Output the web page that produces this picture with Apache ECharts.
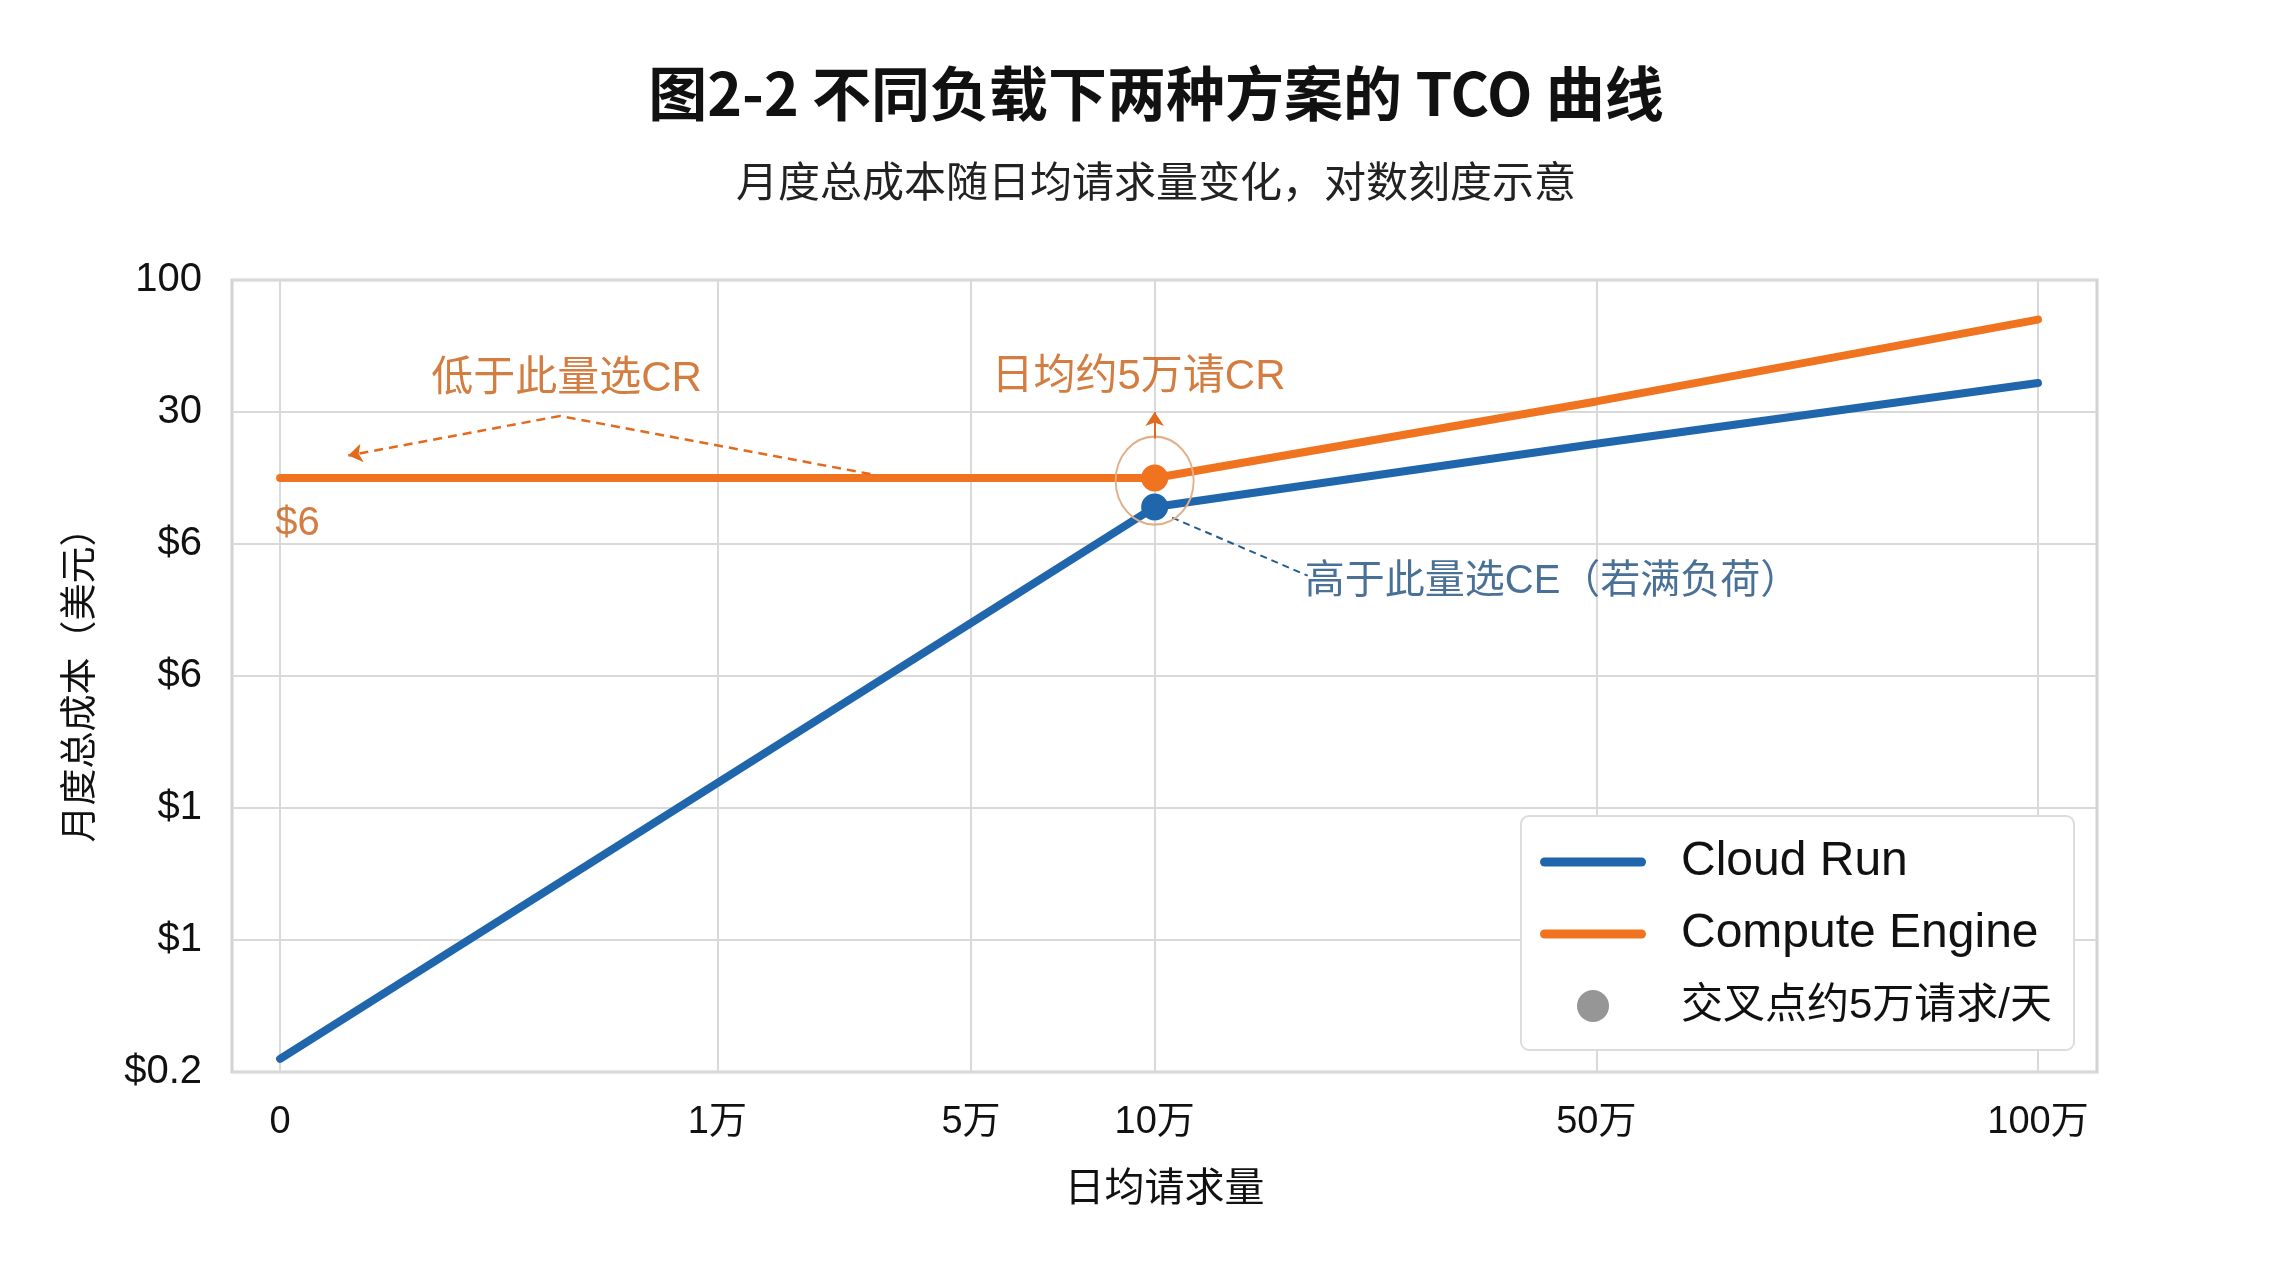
<!DOCTYPE html>
<html>
<head>
<meta charset="utf-8">
<script src="https://cdn.jsdelivr.net/npm/echarts@6/dist/echarts.min.js"></script>
<style>
html, body { margin: 0; background: #fff; }
#chart { width: 2278px; height: 1280px; }
</style>
</head>
<body>
<div id="chart"></div>
<script>
// axis ticks (x positions are in "tick units" as drawn on the reference)
var xTickPos = [0, 1, 1.58, 2, 3.01, 4.02]
var xTickLabels = ['0', '1万', '5万', '10万', '50万', '100万']
var yTickLabels = ['$0.2', '$1', '$1', '$6', '$6', '30', '100']

// series values (y in tick units of the y axis)
var cloudRunX = [0, 2, 3.01, 4.02]
var cloudRunY = [0.1, 4.28, 4.76, 5.22]
var computeX = [0, 2, 3.01, 4.02]
var computeY = [4.5, 4.5, 5.08, 5.7]

// crossover point: x and the two y values (CE, CR)
var crossX = 2
var crossY = [4.5, 4.28]

var FONT = "'Liberation Sans', 'Noto Sans CJK SC', sans-serif"
var BLUE = '#1f66ac'
var ORANGE = '#f07320'
var ORANGE_TEXT = '#c95d10'
var BLUE_TEXT = '#1b4c7c'

// legend bar icon, padded to the full icon box so it stays thin
var BAR_ICON = 'path://M0,0M106,32M4.5,11.5L101.5,11.5A4.5,4.5,0,0,1,101.5,20.5L4.5,20.5A4.5,4.5,0,0,1,4.5,11.5Z'

var pairs = (xs, ys) => xs.map((x, i) => [x, ys[i]])

var chart = echarts.init(document.getElementById('chart'))

var option = {
	backgroundColor: '#fff',
	animation: false,
	textStyle: { fontFamily: FONT },
	title: [
		{
			text: '图2-2 不同负载下两种方案的 TCO 曲线',
			left: 1151,
			top: 59,
			textAlign: 'center',
			textStyle: { fontSize: 59, fontWeight: 'bold', color: '#111', fontFamily: "'Noto Sans CJK SC', sans-serif" },
		},
		{
			text: '月度总成本随日均请求量变化，对数刻度示意',
			left: 1151,
			top: 155,
			textAlign: 'center',
			textStyle: { fontSize: 42, fontWeight: 'normal', color: '#222', fontFamily: "'Noto Sans CJK SC', sans-serif" },
		},
	],
	grid: {
		left: 232,
		right: 181,
		top: 280,
		bottom: 208,
		show: true,
		borderColor: '#d2d2d2',
		borderWidth: 3,
		backgroundColor: 'transparent',
	},
	xAxis: {
		type: 'value',
		min: -0.11,
		max: 4.155,
		name: '日均请求量',
		nameLocation: 'middle',
		nameGap: 98,
		nameTextStyle: { fontSize: 40, color: '#111', fontFamily: FONT },
		axisLine: { show: false },
		axisTick: { show: false, customValues: xTickPos },
		axisLabel: {
			customValues: xTickPos,
			fontSize: 38,
			color: '#111',
			margin: 32,
			formatter: (v) => {
				var i = xTickPos.findIndex((p) => Math.abs(p - v) < 1e-6)
				return i >= 0 ? xTickLabels[i] : ''
			},
		},
		splitLine: { show: true, lineStyle: { color: '#d9d9d9', width: 2 } },
	},
	yAxis: {
		type: 'value',
		min: 0,
		max: 6,
		interval: 1,
		name: '月度总成本（美元）',
		nameLocation: 'middle',
		nameRotate: 90,
		nameGap: 132,
		nameTextStyle: { fontSize: 37, color: '#111', fontFamily: FONT },
		axisLine: { show: false },
		axisTick: { show: false },
		axisLabel: {
			fontSize: 40,
			color: '#111',
			margin: 30,
			formatter: (v) => yTickLabels[Math.round(v)],
		},
		splitLine: { show: true, lineStyle: { color: '#d9d9d9', width: 2 } },
	},
	legend: {
		orient: 'vertical',
		left: 1521,
		top: 816,
		padding: [20, 22, 18, 19],
		itemWidth: 106,
		itemHeight: 32,
		itemGap: 20,
		backgroundColor: '#fff',
		borderColor: '#dcdcdc',
		borderWidth: 2,
		borderRadius: 8,
		formatter: (name) => (/[\u4e00-\u9fff]/.test(name) ? '{c|' + name + '}' : name),
		textStyle: {
			fontSize: 48,
			color: '#111',
			padding: [0, 0, 0, 30],
			lineHeight: 52,
			rich: { c: { fontSize: 42, color: '#111', lineHeight: 52 } },
		},
		data: [
			{ name: 'Cloud Run', icon: BAR_ICON },
			{ name: 'Compute Engine', icon: BAR_ICON },
			{ name: '交叉点约5万请求/天', icon: 'circle' },
		],
	},
	series: [
		{
			name: 'Cloud Run',
			type: 'line',
			symbol: 'none',
			data: pairs(cloudRunX, cloudRunY),
			lineStyle: { color: BLUE, width: 8, cap: 'round' },
			itemStyle: { color: BLUE },
			z: 3,
		},
		{
			name: 'Compute Engine',
			type: 'line',
			symbol: 'none',
			data: pairs(computeX, computeY),
			lineStyle: { color: ORANGE, width: 8, cap: 'round' },
			itemStyle: { color: ORANGE },
			z: 3,
			markLine: {
				silent: true,
				symbol: ['none', 'arrow'],
				symbolSize: 14,
				label: { show: false },
				lineStyle: { color: '#e26a1c', width: 2.5, type: [9, 6] },
				data: [
					[{ coord: [1.35, 4.53], symbol: 'none' }, { coord: [0.64, 4.97], symbol: 'none' }],
					[{ coord: [0.64, 4.97] }, { coord: [0.156, 4.67] }],
					[{ coord: [crossX, 4.8], lineStyle: { type: 'solid', width: 2 } }, { coord: [crossX, 5.0] }],
				],
			},
		},
		{
			// ring round the crossover
			type: 'scatter',
			silent: true,
			symbol: 'circle',
			symbolSize: [78, 88],
			itemStyle: { color: 'rgba(0,0,0,0)', borderColor: '#e2b088', borderWidth: 2, opacity: 1 },
			data: [[crossX, 4.48]],
			z: 4,
		},
		{
			name: '交叉点约5万请求/天',
			type: 'scatter',
			symbolSize: 27,
			itemStyle: { color: '#969696', opacity: 1 },
			data: [
				{ value: [crossX, crossY[0]], itemStyle: { color: ORANGE } },
				{ value: [crossX, crossY[1]], itemStyle: { color: BLUE } },
			],
			z: 6,
		},
		{
			// dashed leader to the CE note
			type: 'line',
			symbol: 'none',
			silent: true,
			data: [[2.04, 4.2], [2.35, 3.76]],
			lineStyle: { color: '#235d8c', width: 2, type: [7, 5] },
			z: 2,
		},
		{
			// text notes
			type: 'scatter',
			silent: true,
			symbolSize: 0,
			z: 7,
			label: { show: true, position: 'inside', fontFamily: FONT },
			data: [
				{ value: [0.655, 5.25], label: { formatter: '低于此量选CR', fontSize: 42, color: ORANGE_TEXT } },
				{ value: [1.963, 5.26], label: { formatter: '日均约5万请CR', fontSize: 42, color: ORANGE_TEXT } },
				{ value: [0.04, 4.15], label: { formatter: '$6', fontSize: 40, color: ORANGE_TEXT } },
				{ value: [2.91, 3.71], label: { formatter: '高于此量选CE（若满负荷）', fontSize: 40, color: BLUE_TEXT } },
			],
		},
	],
}

chart.setOption(option)
</script>
</body>
</html>
